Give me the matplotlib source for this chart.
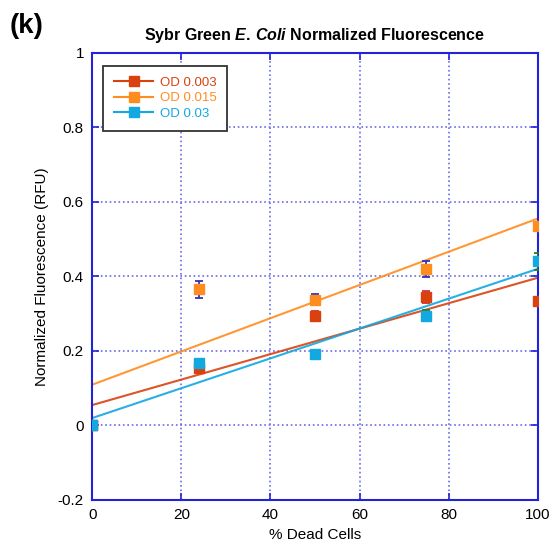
import numpy as np
import matplotlib
matplotlib.use("Agg")
import matplotlib.pyplot as plt

plt.rcParams["font.family"] = ["Liberation Sans", "DejaVu Sans"]
plt.rcParams["mathtext.fontset"] = "custom"
plt.rcParams["mathtext.it"] = "Liberation Sans:italic:bold"
plt.rcParams["mathtext.rm"] = "Liberation Sans:bold"

dead_pct = [0, 24, 50, 75, 100]
od_0003 = [0.0, 0.153, 0.293, 0.345, 0.333]
od_0015 = [0.0, 0.365, 0.337, 0.420, 0.535]
od_003 = [0.0, 0.168, 0.193, 0.295, 0.440]
err_0003 = [0.0, 0.012, 0.014, 0.016, 0.012]
err_0015 = [0.0, 0.022, 0.015, 0.022, 0.012]
err_003 = [0.0, 0.010, 0.008, 0.016, 0.024]

series = [
    ("OD 0.003", od_0003, err_0003, "#d9410f", "#d03040"),
    ("OD 0.015", od_0015, err_0015, "#ff8c1f", "#3030c0"),
    ("OD 0.03", od_003, err_003, "#12a8e0", "#2a7a2a"),
]

grid_blue = "#6a6ae8"
axis_blue = "#2222dd"

fig = plt.figure(figsize=(5.59, 5.50), dpi=100)
ax = fig.add_axes([0.165, 0.091, 0.797, 0.813])

x = np.array(dead_pct, dtype=float)
xx = np.linspace(0, 100, 50)
handles = []
for name, y, e, c, ec in series:
    y = np.array(y)
    k, b = np.polyfit(x, y, 1)
    ax.errorbar(x, y, yerr=e, fmt="none", ecolor=ec, elinewidth=1.3,
                capsize=3, capthick=1.3, zorder=3)
    ax.plot(x, y, "s", color=c, markersize=7, zorder=4)
    ax.plot(xx, k * xx + b, "-", color=c, lw=1.5, alpha=0.9, zorder=2)
    h, = ax.plot([], [], "-s", color=c, markersize=7, lw=1.5,
                 markerfacecolor=c, label=name)
    handles.append(h)

ax.set_xlim(0, 100)
ax.set_ylim(-0.2, 1.0)
ax.set_xticks([0, 20, 40, 60, 80, 100])
ax.set_yticks([-0.2, 0, 0.2, 0.4, 0.6, 0.8, 1.0])
ax.set_yticklabels(["-0.2", "0", "0.2", "0.4", "0.6", "0.8", "1"])
ax.grid(True, color=grid_blue, linestyle=":", linewidth=1.2)
for s in ax.spines.values():
    s.set_color(axis_blue)
    s.set_linewidth(1.5)
ax.tick_params(direction="in", color=axis_blue, length=5, width=1.2,
               top=True, right=True, labelsize=11, pad=6)

ax.set_xlabel("% Dead Cells", fontsize=11, labelpad=4)
ax.set_ylabel("Normalized Fluorescence (RFU)", fontsize=11, labelpad=6)
ax.set_title(r"Sybr Green $\it{E.\,Coli}$ Normalized Fluorescence",
             fontsize=11.5, fontweight="bold", pad=9)

leg = ax.legend(handles=handles, loc="upper left", bbox_to_anchor=(0.01, 0.985),
                fontsize=9.5, fancybox=False, edgecolor="#333333",
                framealpha=1, handlelength=3.0, borderpad=0.8,
                labelspacing=0.25, handletextpad=0.5)
leg.get_frame().set_linewidth(1.3)
for t, (_, _, _, c, _) in zip(leg.get_texts(), series):
    t.set_color(c)

fig.text(0.018, 0.94, "(k)", fontsize=20, fontweight="bold")

fig.savefig("out.png", dpi=100)
